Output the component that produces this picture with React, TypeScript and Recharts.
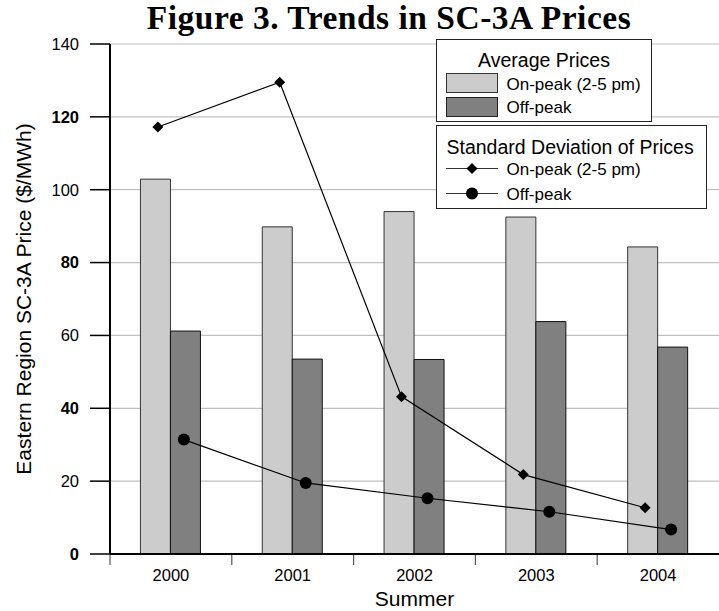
import React from 'react';
import {
  ComposedChart,
  Bar,
  Line,
  XAxis,
  YAxis,
  CartesianGrid,
  Legend,
  Label,
} from 'recharts';

const years = ['2000', '2001', '2002', '2003', '2004'];
const onPeakAvg = [102.9, 89.8, 94.0, 92.5, 84.3];
const offPeakAvg = [61.2, 53.5, 53.4, 63.8, 56.8];
const onPeakStd = [117.2, 129.5, 43.2, 21.8, 12.7];
const offPeakStd = [31.4, 19.5, 15.3, 11.6, 6.7];
const yTicks = [0, 20, 40, 60, 80, 100, 120, 140];
const boldTicks = [0, 40, 80, 120];

const data = years.map((y, i) => ({
  year: y,
  onAvg: onPeakAvg[i],
  offAvg: offPeakAvg[i],
  onStd: onPeakStd[i],
  offStd: offPeakStd[i],
}));

const CHART_W = 719;
const CHART_H = 611;
const Y_AXIS_W = 110;
const X_TICK_SIZE = 11;
const X_TICK_MARGIN = 4;
const BAND = (CHART_W - Y_AXIS_W) / years.length;

const FONT = '"Liberation Sans", Arial, sans-serif';
const LIGHT = '#cccccc';
const DARK = '#808080';

const YTick = (props: any) => {
  const { x, y, payload } = props;
  return (
    <text
      x={x}
      y={y}
      dy="0.355em"
      textAnchor="end"
      fontFamily={FONT}
      fontSize={16.5}
      fill="#000"
      fontWeight={boldTicks.includes(payload.value) ? 'bold' : 'normal'}
    >
      {payload.value}
    </text>
  );
};

const XTick = (props: any) => {
  const { x, y, payload } = props;
  const axisY = y - X_TICK_SIZE - X_TICK_MARGIN;
  const bx = x - BAND / 2;
  return (
    <g>
      <line x1={bx} x2={bx} y1={axisY + 1} y2={axisY + X_TICK_SIZE} stroke="#555" strokeWidth={1.2} />
      <text
        x={x}
        y={y}
        dy="0.72em"
        textAnchor="middle"
        fontFamily={FONT}
        fontSize={16.5}
        fill="#000"
      >
        {payload.value}
      </text>
    </g>
  );
};

const Diamond = (props: any) => {
  const { cx, cy } = props;
  if (cx == null || cy == null) return null;
  const s = 5.5;
  return (
    <polygon
      points={`${cx},${cy - s} ${cx + s},${cy} ${cx},${cy + s} ${cx - s},${cy}`}
      fill="#000"
    />
  );
};

const Dot = (props: any) => {
  const { cx, cy } = props;
  if (cx == null || cy == null) return null;
  return <circle cx={cx} cy={cy} r={6} fill="#000" />;
};

const LegendBoxes = () => (
  <svg width={272} height={172} style={{ display: 'block' }}>
    <rect x={0.5} y={0.5} width={215} height={82} fill="#fff" stroke="#222" />
    <text x={108} y={28} textAnchor="middle" fontFamily={FONT} fontSize={19.5} fill="#000">
      Average Prices
    </text>
    <rect x={10.5} y={34.5} width={51} height={19} fill={LIGHT} stroke="#333" />
    <text x={70.5} y={50.5} fontFamily={FONT} fontSize={17} fill="#000">
      On-peak (2-5 pm)
    </text>
    <rect x={10.5} y={58.5} width={51} height={19} fill={DARK} stroke="#222" />
    <text x={70.5} y={74} fontFamily={FONT} fontSize={17} fill="#000">
      Off-peak
    </text>

    <rect x={0.5} y={86.5} width={270} height={83} fill="#fff" stroke="#222" />
    <text x={10.5} y={115} fontFamily={FONT} fontSize={19.5} fill="#000">
      Standard Deviation of Prices
    </text>
    <line x1={10} x2={62} y1={129.5} y2={129.5} stroke="#333" strokeWidth={1} />
    <polygon points="36,124 41.5,129.5 36,135 30.5,129.5" fill="#000" />
    <text x={70.5} y={136} fontFamily={FONT} fontSize={17} fill="#000">
      On-peak (2-5 pm)
    </text>
    <line x1={10} x2={62} y1={154.5} y2={154.5} stroke="#333" strokeWidth={1} />
    <circle cx={36} cy={154.5} r={6} fill="#000" />
    <text x={70.5} y={160.5} fontFamily={FONT} fontSize={17} fill="#000">
      Off-peak
    </text>
  </svg>
);

export default function App() {
  return (
    <div style={{ position: 'absolute', left: 0, top: 0, width: CHART_W, height: CHART_H, background: '#fff' }}>
      <div
        style={{
          position: 'absolute',
          left: 0,
          top: 3,
          width: 778,
          textAlign: 'center',
          fontFamily: '"Liberation Serif", "Times New Roman", serif',
          fontWeight: 'bold',
          fontSize: 33.5,
          lineHeight: '30px',
          letterSpacing: 0.5,
          color: '#000',
          whiteSpace: 'nowrap',
          zIndex: 2,
        }}
      >
        Figure 3. Trends in SC-3A Prices
      </div>
      <ComposedChart
        width={CHART_W}
        height={CHART_H}
        data={data}
        margin={{ top: 44, right: 0, bottom: 0, left: 0 }}
        barCategoryGap="25%"
        barGap={0}
      >
        <CartesianGrid vertical={false} stroke="#c0c0c0" strokeWidth={1.2} xAxisId="cat" yAxisId="y" />
        <XAxis
          xAxisId="cat"
          dataKey="year"
          height={57}
          tickLine={false}
          tickSize={X_TICK_SIZE}
          tickMargin={X_TICK_MARGIN}
          tick={<XTick />}
          interval={0}
          axisLine={{ stroke: '#000', strokeWidth: 2 }}
        >
          <Label
            value="Summer"
            position="insideBottom"
            offset={5}
            style={{ fontFamily: FONT, fontSize: 21, fill: '#000' }}
          />
        </XAxis>
        <XAxis xAxisId="on" dataKey="year" hide padding={{ left: -13, right: 13 }} />
        <XAxis xAxisId="off" dataKey="year" hide padding={{ left: 13, right: -13 }} />
        <YAxis
          yAxisId="y"
          width={Y_AXIS_W}
          domain={[0, 140]}
          ticks={yTicks}
          interval={0}
          tickSize={20}
          tickMargin={11}
          tick={<YTick />}
          tickLine={{ stroke: '#000', strokeWidth: 1.5 }}
          axisLine={{ stroke: '#000', strokeWidth: 2 }}
        >
          <Label
            value="Eastern Region SC-3A Price ($/MWh)"
            angle={-90}
            position="insideLeft"
            offset={24}
            style={{ fontFamily: FONT, fontSize: 21, fill: '#000', textAnchor: 'middle' }}
          />
        </YAxis>
        <Bar
          xAxisId="cat"
          yAxisId="y"
          dataKey="onAvg"
          name="On-peak (2-5 pm)"
          fill={LIGHT}
          stroke="#333"
          strokeWidth={1}
          isAnimationActive={false}
        />
        <Bar
          xAxisId="cat"
          yAxisId="y"
          dataKey="offAvg"
          name="Off-peak"
          fill={DARK}
          stroke="#111"
          strokeWidth={1}
          isAnimationActive={false}
        />
        <Line
          xAxisId="on"
          yAxisId="y"
          dataKey="onStd"
          type="linear"
          stroke="#000"
          strokeWidth={1.2}
          dot={<Diamond />}
          activeDot={false}
          isAnimationActive={false}
        />
        <Line
          xAxisId="off"
          yAxisId="y"
          dataKey="offStd"
          type="linear"
          stroke="#000"
          strokeWidth={1.2}
          dot={<Dot />}
          activeDot={false}
          isAnimationActive={false}
        />
        <Legend
          layout="vertical"
          align="center"
          verticalAlign="middle"
          wrapperStyle={{ position: 'absolute', left: 436, top: 39, width: 272, height: 172 }}
          content={() => <LegendBoxes />}
        />
      </ComposedChart>
    </div>
  );
}
